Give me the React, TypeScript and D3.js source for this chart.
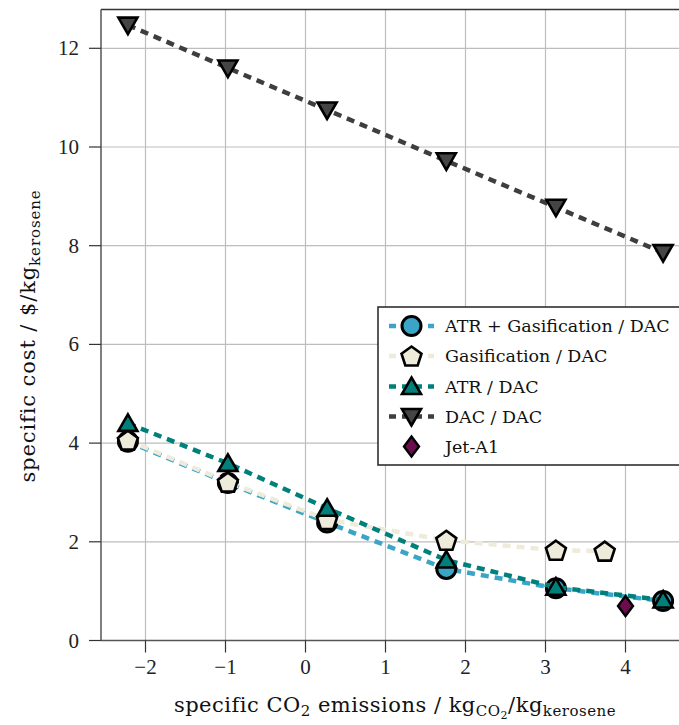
import React from "react";
import * as d3 from "d3";

// ---------- data ----------
const atrGasX = [-2.22, -0.97, 0.27, 1.76, 3.13, 4.47];
const atrGasY = [4.03, 3.19, 2.39, 1.45, 1.06, 0.8];
const gasX = [-2.22, -0.97, 0.27, 1.76, 3.13, 3.74];
const gasY = [4.06, 3.21, 2.45, 2.03, 1.83, 1.81];
const atrX = [-2.22, -0.97, 0.27, 1.76, 3.13, 4.47];
const atrY = [4.4, 3.59, 2.68, 1.63, 1.08, 0.82];
const dacX = [-2.22, -0.97, 0.27, 1.76, 3.13, 4.47];
const dacY = [12.47, 11.6, 10.75, 9.72, 8.78, 7.86];
const jetX = [4.0];
const jetY = [0.7];

const seriesNames = ["ATR + Gasification / DAC", "Gasification / DAC", "ATR / DAC", "DAC / DAC", "Jet-A1"];
const xTicks = [-2, -1, 0, 1, 2, 3, 4];
const yTicks = [0, 2, 4, 6, 8, 10, 12];

// ---------- layout ----------
const W = 679;
const H = 725;
const left = 101;
const top = 9.5;
const bottom = 640.5;
const rightEdge = 700;

const x = d3.scaleLinear().domain([-2, 4]).range([145.5, 625.5]);
const y = d3.scaleLinear().domain([0, 12]).range([bottom, 48.3]);

const BLUE = "#3aa5c6";
const BEIGE = "#eeebda";
const TEAL = "#00807b";
const GRAY = "#3e3e3e";
const GRAYFILL = "#454545";
const PURPLE = "#6c0b4d";

type Shape = "circle" | "pentagon" | "triUp" | "triDown" | "diamond";

function markerPath(shape: Shape, cx: number, cy: number): string {
  if (shape === "circle") {
    const r = 9.5;
    return `M${cx - r},${cy}a${r},${r} 0 1,0 ${2 * r},0a${r},${r} 0 1,0 ${-2 * r},0Z`;
  }
  let pts: [number, number][] = [];
  if (shape === "pentagon") {
    const r = 10.5;
    for (let i = 0; i < 5; i++) {
      const a = -Math.PI / 2 + (i * 2 * Math.PI) / 5;
      pts.push([cx + r * Math.cos(a), cy + r * Math.sin(a) + 1]);
    }
  } else if (shape === "triUp") {
    const r = 11;
    for (let i = 0; i < 3; i++) {
      const a = -Math.PI / 2 + (i * 2 * Math.PI) / 3;
      pts.push([cx + r * Math.cos(a), cy + r * Math.sin(a) + 2]);
    }
  } else if (shape === "triDown") {
    const r = 11;
    for (let i = 0; i < 3; i++) {
      const a = Math.PI / 2 + (i * 2 * Math.PI) / 3;
      pts.push([cx + r * Math.cos(a), cy + r * Math.sin(a) - 2]);
    }
  } else {
    pts = [
      [cx, cy - 10],
      [cx + 7.5, cy],
      [cx, cy + 10],
      [cx - 7.5, cy],
    ];
  }
  return "M" + pts.map((p) => p.join(",")).join("L") + "Z";
}

interface Series {
  xs: number[];
  ys: number[];
  color: string;
  fill: string;
  shape: Shape;
  line: boolean;
  sw: number;
}

const series: Series[] = [
  { xs: atrGasX, ys: atrGasY, color: BLUE, fill: BLUE, shape: "circle", line: true, sw: 3 },
  { xs: gasX, ys: gasY, color: BEIGE, fill: BEIGE, shape: "pentagon", line: true, sw: 2.6 },
  { xs: atrX, ys: atrY, color: TEAL, fill: TEAL, shape: "triUp", line: true, sw: 2.6 },
  { xs: dacX, ys: dacY, color: GRAY, fill: GRAYFILL, shape: "triDown", line: true, sw: 2.6 },
  { xs: jetX, ys: jetY, color: PURPLE, fill: PURPLE, shape: "diamond", line: false, sw: 2.4 },
];

const DASH = "8,6";
const LW = 4.5;

const lineGen = d3
  .line<[number, number]>()
  .x((d) => x(d[0]))
  .y((d) => y(d[1]));

const labelFont = "'DejaVu Serif', serif";
const tickFont = "'Liberation Serif', serif";

export default function App() {
  const legendX = 378;
  const legendY = 307;
  const rowY = [326, 356, 386.5, 416.5, 446.5];

  return (
    <svg
      width={W}
      height={H}
      style={{ position: "absolute", left: 0, top: 0, display: "block", background: "#fff" }}
    >
      <defs>
        <clipPath id="plot">
          <rect x={left} y={top} width={rightEdge - left} height={bottom - top} />
        </clipPath>
      </defs>
      {/* grid */}
      <g stroke="#bdbdbd" strokeWidth={1.2}>
        {xTicks.map((t) => (
          <line key={"gx" + t} x1={x(t)} x2={x(t)} y1={top} y2={bottom} />
        ))}
        {yTicks.map((t) => (
          <line key={"gy" + t} x1={left} x2={rightEdge} y1={y(t)} y2={y(t)} />
        ))}
      </g>
      {/* frame */}
      <g stroke="#333" strokeWidth={1.5}>
        <line x1={left} x2={rightEdge} y1={top} y2={top} />
        <line x1={left} x2={left} y1={top} y2={bottom} stroke="#555" />
        <line x1={left} x2={rightEdge} y1={bottom} y2={bottom} stroke="#555" />
      </g>
      {/* ticks */}
      <g stroke="#333" strokeWidth={1.2}>
        {xTicks.map((t) => (
          <line key={"tx" + t} x1={x(t)} x2={x(t)} y1={bottom} y2={bottom + 12} />
        ))}
        {yTicks.map((t) => (
          <line key={"ty" + t} x1={left - 12} x2={left} y1={y(t)} y2={y(t)} />
        ))}
      </g>
      <g fontFamily={tickFont} fontSize={21} fill="#222">
        {xTicks.map((t) => (
          <text key={"lx" + t} x={x(t)} y={674} textAnchor="middle">
            {t < 0 ? "\u2212" + Math.abs(t) : String(t)}
          </text>
        ))}
        {yTicks.map((t) => (
          <text key={"ly" + t} x={79} y={y(t) + 7} textAnchor="end">
            {String(t)}
          </text>
        ))}
      </g>
      {/* data */}
      <g clipPath="url(#plot)">
        {series.map((s, i) => {
          const pts: [number, number][] = s.xs.map((v, j) => [v, s.ys[j]]);
          return (
            <g key={"s" + i}>
              {s.line && (
                <path d={lineGen(pts) || ""} fill="none" stroke={s.color} strokeWidth={LW} strokeDasharray={DASH} />
              )}
              {pts.map((p, j) => (
                <path
                  key={j}
                  d={markerPath(s.shape, x(p[0]), y(p[1]))}
                  fill={s.fill}
                  stroke="#000"
                  strokeWidth={s.sw}
                  strokeLinejoin="miter"
                />
              ))}
            </g>
          );
        })}
      </g>
      {/* legend */}
      <g>
        <rect x={legendX} y={legendY} width={rightEdge - legendX} height={158} fill="#fff" stroke="#222" strokeWidth={1.5} />
        {series.map((s, i) => (
          <g key={"lg" + i}>
            {s.line && (
              <line x1={389} x2={434} y1={rowY[i]} y2={rowY[i]} stroke={s.color} strokeWidth={LW} strokeDasharray="7,6" />
            )}
            <path d={markerPath(s.shape, 411.5, rowY[i])} fill={s.fill} stroke="#000" strokeWidth={s.sw} />
            <text x={445} y={rowY[i] + 6} fontFamily={labelFont} fontSize={17.5} fill="#111">
              {seriesNames[i]}
            </text>
          </g>
        ))}
      </g>
      {/* axis labels */}
      <text x={395} y={712} textAnchor="middle" fontFamily={labelFont} fontSize={21} letterSpacing={0.5} fill="#111">
        specific CO<tspan dy={4} fontSize={15}>2</tspan>
        <tspan dy={-4}> emissions / kg</tspan>
        <tspan dy={4} fontSize={15}>CO</tspan>
        <tspan dy={3} fontSize={11}>2</tspan>
        <tspan dy={-7}>/kg</tspan>
        <tspan dy={4} fontSize={15}>kerosene</tspan>
      </text>
      <text
        transform={`translate(35,336) rotate(-90)`}
        textAnchor="middle"
        fontFamily={labelFont}
        fontSize={21}
        letterSpacing={0.9}
        fill="#111"
      >
        specific cost / $/kg<tspan dy={5} fontSize={15}>kerosene</tspan>
      </text>
    </svg>
  );
}
